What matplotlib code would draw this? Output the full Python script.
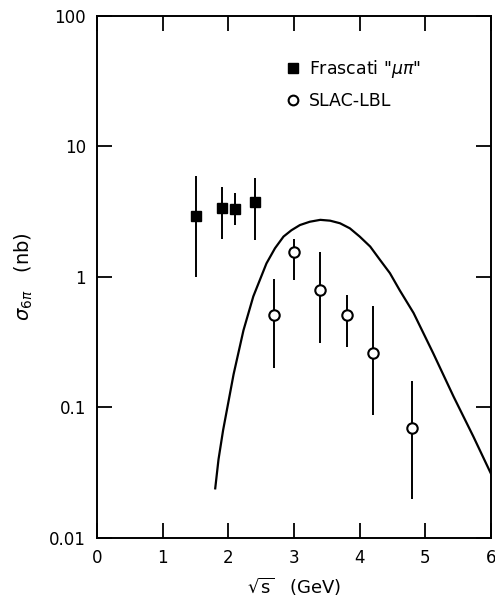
import numpy as np
import matplotlib
matplotlib.use("Agg")
import matplotlib.pyplot as plt
from matplotlib.lines import Line2D

# Frascati "mu pi" (filled squares)
fr_x = [1.5, 1.9, 2.1, 2.4]
fr_y = [2.93, 3.38, 3.3, 3.76]
fr_lo = [1.0, 1.95, 2.5, 1.92]
fr_hi = [5.9, 4.9, 4.4, 5.7]

# SLAC-LBL (open circles)
sl_x = [2.7, 3.0, 3.4, 3.8, 4.2, 4.8]
sl_y = [0.51, 1.56, 0.79, 0.51, 0.26, 0.070]
sl_lo = [0.20, 0.95, 0.31, 0.29, 0.088, 0.020]
sl_hi = [0.97, 1.94, 1.56, 0.73, 0.60, 0.16]

# theory curve
cv_x = [1.80, 1.85, 1.92, 2.08, 2.23, 2.38, 2.58, 2.71, 2.84, 2.96, 3.09,
        3.24, 3.40, 3.55, 3.70, 3.85, 4.00, 4.16, 4.31, 4.46, 4.61, 4.82,
        5.12, 5.43, 5.73, 6.0]
cv_y = [0.024, 0.040, 0.067, 0.18, 0.39, 0.71, 1.27, 1.66, 2.04, 2.28, 2.50,
        2.65, 2.74, 2.70, 2.58, 2.36, 2.04, 1.71, 1.35, 1.07, 0.79, 0.53,
        0.26, 0.121, 0.060, 0.031]

plt.rcParams["font.family"] = "DejaVu Sans"
fig = plt.figure(figsize=(4.95, 6.07), dpi=100)
ax = fig.add_axes([0.196, 0.1137, 0.796, 0.86])

ax.plot(cv_x, cv_y, color="black", lw=1.6)

fr_err = [np.array(fr_y) - np.array(fr_lo), np.array(fr_hi) - np.array(fr_y)]
ax.errorbar(fr_x, fr_y, yerr=fr_err, fmt="s", color="black", ms=7,
            elinewidth=1.4, capsize=0, zorder=3)
sl_err = [np.array(sl_y) - np.array(sl_lo), np.array(sl_hi) - np.array(sl_y)]
ax.errorbar(sl_x, sl_y, yerr=sl_err, fmt="o", color="black", mfc="white",
            mec="black", mew=1.5, ms=7.5, elinewidth=1.4, capsize=0, zorder=3)

ax.set_yscale("log")
ax.set_xlim(0, 6)
ax.set_ylim(0.01, 100)
ax.yaxis.set_minor_locator(matplotlib.ticker.NullLocator())
ax.set_yticks([0.01, 0.1, 1, 10, 100])
ax.set_yticklabels(["0.01", "0.1", "1", "10", "100"])
ax.set_xticks(range(0, 7))
ax.set_xticklabels([str(i) for i in range(0, 7)])
ax.tick_params(direction="in", length=11, width=1.3, top=True, right=True,
               labelsize=12, pad=8)
for s in ax.spines.values():
    s.set_linewidth(1.4)

ax.set_xlabel(r"$\sqrt{\mathrm{s}}$   (GeV)", fontsize=13, labelpad=6)
ax.set_ylabel(r"$\sigma_{6\pi}$   (nb)", fontsize=14, labelpad=10)

handles = [
    Line2D([], [], ls="none", marker="s", color="black", ms=7),
    Line2D([], [], ls="none", marker="o", mfc="white", mec="black", mew=1.5, ms=7),
]
ax.legend(handles, [r'Frascati "$\mu\pi$"', "SLAC-LBL"], loc="upper left",
          bbox_to_anchor=(0.44, 0.95), frameon=False, fontsize=12.5,
          handlelength=0.8, handletextpad=0.5, labelspacing=0.7)

fig.savefig("out.png", dpi=100)
